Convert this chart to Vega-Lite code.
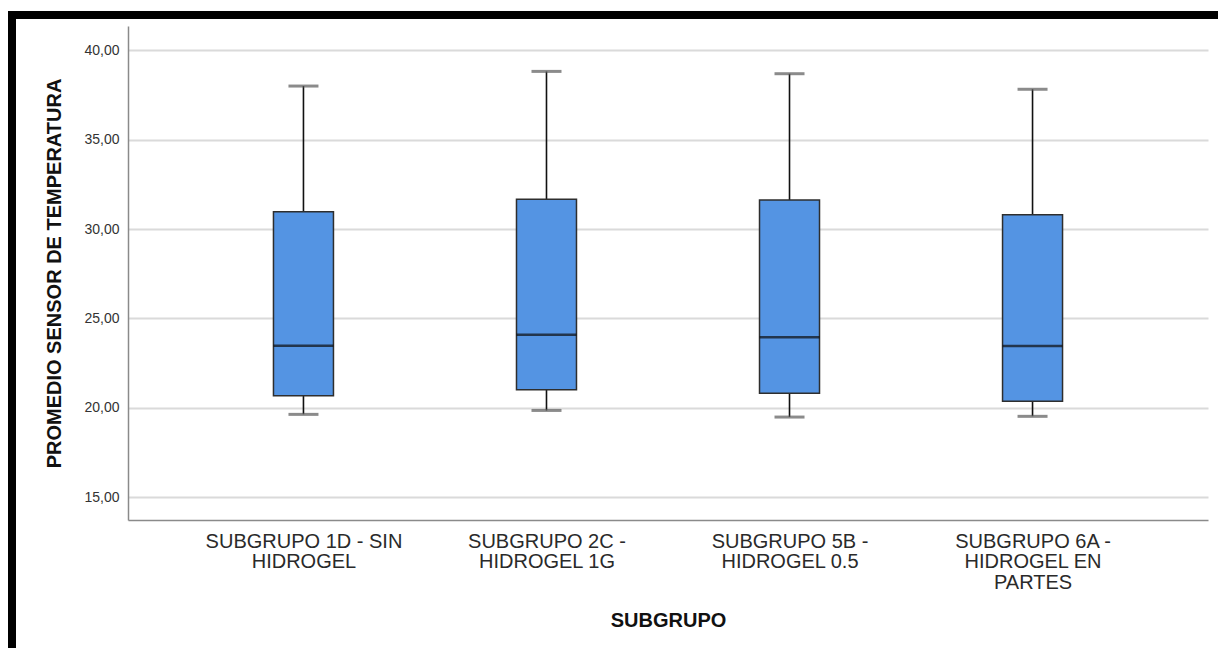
{
  "$schema": "https://vega.github.io/schema/vega-lite/v6.json",
  "autosize": {"type": "pad"},
  "padding": {"left": 7, "top": 10, "right": 0, "bottom": 0},
  "background": "white",
  "config": {
    "font": "Liberation Sans",
    "view": {"stroke": null},
    "concat": {"spacing": 0}
  },
  "bounds": "flush",
  "spacing": 0,
  "hconcat": [
    {
      "width": 8,
      "height": 638,
      "view": {"fill": "black", "stroke": null},
      "data": {"values": [{}]},
      "mark": {"type": "rule", "opacity": 0, "strokeWidth": 0},
      "encoding": {}
    },
    {
      "bounds": "flush",
      "spacing": 7,
      "vconcat": [
        {
          "width": 1203,
          "height": 8,
          "view": {"fill": "black", "stroke": null},
          "data": {"values": [{}]},
          "mark": {"type": "rule", "opacity": 0, "strokeWidth": 0},
          "encoding": {}
        },
        {
          "bounds": "flush",
          "spacing": 100,
          "hconcat": [
            {
              "width": 12,
              "height": 494,
              "view": {"stroke": null},
              "data": {"values": [{}]},
              "mark": {"type": "rule", "opacity": 0, "strokeWidth": 0},
              "encoding": {}
            },
            {
              "width": 1080,
              "height": 494,
              "data": {
                "values": [
                  {"subgrupo": "SUBGRUPO 1D - SIN HIDROGEL", "min": 19.63, "q1": 20.67, "mediana": 23.47, "q3": 30.97, "max": 38.0},
                  {"subgrupo": "SUBGRUPO 2C - HIDROGEL 1G", "min": 19.85, "q1": 21.01, "mediana": 24.09, "q3": 31.66, "max": 38.82},
                  {"subgrupo": "SUBGRUPO 5B - HIDROGEL 0.5", "min": 19.48, "q1": 20.81, "mediana": 23.94, "q3": 31.62, "max": 38.69},
                  {"subgrupo": "SUBGRUPO 6A - HIDROGEL EN PARTES", "min": 19.52, "q1": 20.37, "mediana": 23.45, "q3": 30.8, "max": 37.82}
                ]
              },
              "encoding": {
                "x": {
                  "field": "subgrupo",
                  "type": "nominal",
                  "sort": null,
                  "scale": {"type": "point", "padding": 0.722},
                  "axis": {
                    "title": "SUBGRUPO",
                    "titleFont": "Liberation Sans",
                    "titleFontSize": 20,
                    "titleFontWeight": "bold",
                    "titleColor": "#111111",
                    "titlePadding": 18,
                    "labelAngle": 0,
                    "labelFont": "Liberation Sans",
                    "labelFontSize": 20,
                    "labelLineHeight": 20.5,
                    "labelColor": "#2a2a2a",
                    "labelPadding": 11,
                    "labelLimit": 0,
                    "labelExpr": "split(replace(replace(datum.label, ' HIDROGEL', '|HIDROGEL'), ' PARTES', '|PARTES'), '|')",
                    "ticks": false,
                    "tickSize": 0,
                    "domainColor": "#8a8a8a",
                    "domainWidth": 1.5,
                    "grid": false
                  }
                }
              },
              "layer": [
                {
                  "mark": {"type": "rule", "color": "#111111", "strokeWidth": 1.6},
                  "encoding": {
                    "y": {
                      "field": "min",
                      "type": "quantitative",
                      "scale": {"domain": [13.72, 41.36], "nice": false, "zero": false},
                      "axis": {
                        "title": "PROMEDIO SENSOR DE TEMPERATURA",
                        "titleFont": "Liberation Sans",
                        "titleFontSize": 20,
                        "titleFontWeight": "bold",
                        "titleColor": "#111111",
                        "titlePadding": 19,
                        "values": [15, 20, 25, 30, 35, 40],
                        "labelExpr": "replace(format(datum.value, '.2f'), '.', ',')",
                        "labelFont": "Liberation Sans",
                        "labelFontSize": 14,
                        "labelColor": "#333333",
                        "labelPadding": 9,
                        "ticks": false,
                        "tickSize": 0,
                        "domainColor": "#8a8a8a",
                        "domainWidth": 1.5,
                        "grid": true,
                        "gridColor": "#dadada",
                        "gridWidth": 2
                      }
                    },
                    "y2": {"field": "max"}
                  }
                },
                {
                  "mark": {"type": "tick", "color": "#5a5a5a", "size": 30, "thickness": 3, "orient": "horizontal"},
                  "encoding": {"y": {"field": "min", "type": "quantitative"}}
                },
                {
                  "mark": {"type": "tick", "color": "#5a5a5a", "size": 30, "thickness": 3, "orient": "horizontal"},
                  "encoding": {"y": {"field": "max", "type": "quantitative"}}
                },
                {
                  "mark": {"type": "bar", "size": 60, "fill": "#5494e3", "stroke": "#2e2e2e", "strokeWidth": 1.5},
                  "encoding": {
                    "y": {"field": "q1", "type": "quantitative"},
                    "y2": {"field": "q3"}
                  }
                },
                {
                  "mark": {"type": "tick", "color": "#0d0d0d", "size": 60, "thickness": 2.5, "orient": "horizontal"},
                  "encoding": {"y": {"field": "mediana", "type": "quantitative"}}
                }
              ]
            }
          ]
        }
      ]
    }
  ]
}
